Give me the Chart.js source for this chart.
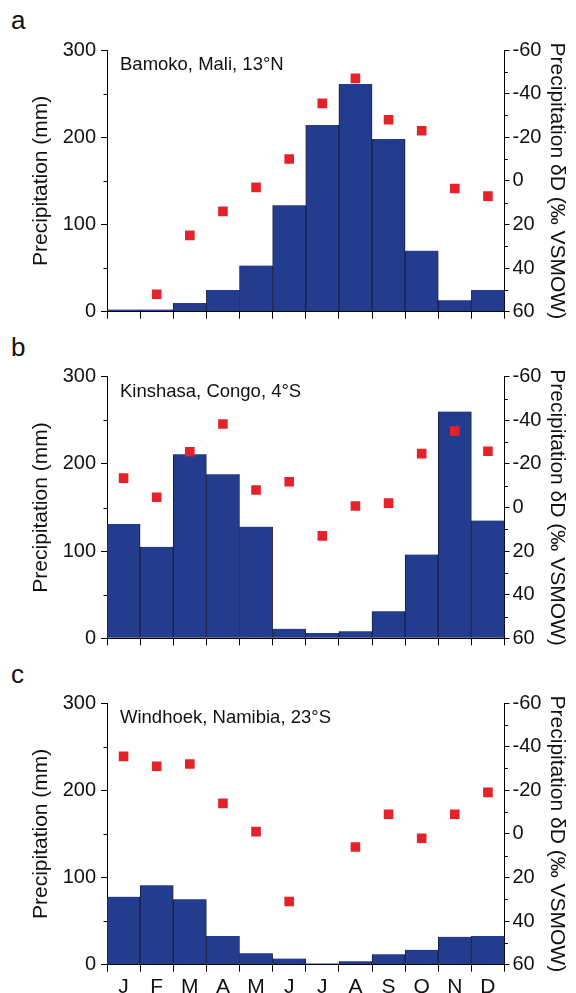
<!DOCTYPE html>
<html>
<head>
<meta charset="utf-8">
<script src="https://cdn.jsdelivr.net/npm/chart.js@4.4.1/dist/chart.umd.min.js"></script>
<style>
  html, body { margin: 0; padding: 0; background: #fff; }
  body { width: 576px; height: 993px; position: relative; overflow: hidden; font-family: "Liberation Sans", Arial, sans-serif; }
  .panel { position: absolute; left: 0; width: 576px; }
  .letter { position: absolute; left: 11px; font-size: 26px; color: #111; line-height: 1; }
</style>
</head>
<body>
<div class="letter" id="la" style="top:7px">a</div>
<div class="letter" id="lb" style="top:334px">b</div>
<div class="letter" id="lc" style="top:661px">c</div>
<div class="panel" style="top:0px;height:330px"><canvas id="ca" width="576" height="330"></canvas></div>
<div class="panel" style="top:330px;height:330px"><canvas id="cb" width="576" height="330"></canvas></div>
<div class="panel" style="top:660px;height:333px"><canvas id="cc" width="576" height="333"></canvas></div>
<script>
// ---- data ----
const months = ['J','F','M','A','M','J','J','A','S','O','N','D'];

const bamakoPrecip = [2.5, 2.5, 10, 25, 53, 122, 214, 261, 198, 70, 13, 25];
const bamakoDD     = [null, 52, 25, 14, 3, -10, -35.5, -47, -28, -23, 3.5, 7];

const kinshasaPrecip = [131, 105, 211, 188, 128, 11, 6, 8, 31, 96, 260, 135];
const kinshasaDD     = [-13.5, -4.7, -25.6, -38.3, -8, -11.8, 13, -0.7, -2, -24.7, -35.1, -25.8];

const windhoekPrecip = [78, 91, 75, 33, 13, 7, 1.5, 4, 12, 17, 32, 33];
const windhoekDD     = [-35.5, -31, -32, -14, -1, 31, null, 6, -9, 2, -9, -19];

const precipTicks = [0, 100, 200, 300];
const deltaTicks  = [-60, -40, -20, 0, 20, 40, 60];
const precipMinor = [50, 150, 250];
const deltaMinor  = [-50, -30, -10, 10, 30, 50];

const stationNames = ['Bamoko, Mali, 13°N', 'Kinshasa, Congo, 4°S', 'Windhoek, Namibia, 23°S'];
const leftTitle  = 'Precipitation (mm)';
const rightTitle = 'Precipitation δD (‰ VSMOW)';

// ---- styling ----
const FONT = '"Liberation Sans", Arial, sans-serif';
const TXT = '#111111';
const BAR = '#233c8e';
const PT  = '#e5222a';

const minorTicks = {
  id: 'minorTicks',
  afterDraw(chart) {
    const ctx = chart.ctx;
    const y = chart.scales.y, y1 = chart.scales.y1;
    ctx.save();
    ctx.strokeStyle = '#000';
    ctx.lineWidth = 1;
    ctx.beginPath();
    precipMinor.forEach(v => {
      const p = Math.round(y.getPixelForValue(v)) + 0.5;
      ctx.moveTo(chart.chartArea.left - 3.5, p);
      ctx.lineTo(chart.chartArea.left, p);
    });
    deltaMinor.forEach(v => {
      const p = Math.round(y1.getPixelForValue(v)) + 0.5;
      ctx.moveTo(chart.chartArea.right, p);
      ctx.lineTo(chart.chartArea.right + 3.5, p);
    });
    ctx.stroke();
    ctx.restore();
  }
};

const stationLabel = {
  id: 'stationLabel',
  afterDraw(chart, args, opts) {
    const ctx = chart.ctx;
    ctx.save();
    ctx.font = '18.5px ' + FONT;
    ctx.fillStyle = TXT;
    ctx.textBaseline = 'alphabetic';
    ctx.textAlign = 'left';
    ctx.fillText(opts.text, chart.chartArea.left + 13, chart.chartArea.top + 20);
    ctx.restore();
  }
};

function makeChart(id, precip, dd, name, padTop, xHeight, showMonths) {
  return new Chart(document.getElementById(id), {
    data: {
      labels: months,
      datasets: [
        {
          type: 'line',
          data: dd,
          yAxisID: 'y1',
          showLine: false,
          pointStyle: 'rect',
          pointRadius: 6.8,
          pointBackgroundColor: PT,
          pointBorderWidth: 0,
          order: 0
        },
        {
          type: 'bar',
          data: precip,
          yAxisID: 'y',
          backgroundColor: BAR,
          borderColor: '#1b1f45',
          borderWidth: {left: 1, right: 1, top: 0, bottom: 0},
          borderSkipped: false,
          categoryPercentage: 1.0,
          barPercentage: 1.0,
          order: 1
        }
      ]
    },
    options: {
      responsive: false,
      animation: false,
      events: [],
      layout: { padding: { top: padTop, left: 0, right: 0, bottom: 0 } },
      plugins: {
        legend: { display: false },
        tooltip: { enabled: false },
        stationLabel: { text: name }
      },
      scales: {
        x: {
          type: 'category',
          offset: true,
          grid: { offset: true, drawOnChartArea: false, drawTicks: true, tickLength: 7, color: '#000' },
          border: { display: true, color: '#000', width: 1 },
          ticks: {
            display: showMonths,
            color: TXT,
            font: { family: FONT, size: 21 },
            padding: 3,
            maxRotation: 0,
            autoSkip: false
          },
          afterFit(s) { s.height = xHeight; }
        },
        y: {
          position: 'left',
          min: 0, max: 300,
          afterBuildTicks(s) { s.ticks = precipTicks.map(v => ({value: v})); },
          grid: { drawOnChartArea: false, drawTicks: true, tickLength: 6, color: '#000' },
          border: { display: true, color: '#000', width: 1 },
          ticks: { color: TXT, font: { family: FONT, size: 20 }, padding: 5 },
          title: { display: true, text: leftTitle, color: TXT, font: { family: FONT, size: 21 }, padding: { top: 29, bottom: 0 } },
          afterFit(s) { s.width = 107; }
        },
        y1: {
          position: 'right',
          reverse: true,
          min: -60, max: 60,
          afterBuildTicks(s) { s.ticks = deltaTicks.map(v => ({value: v})); },
          grid: { drawOnChartArea: false, drawTicks: true, tickLength: 5, color: '#000' },
          border: { display: true, color: '#000', width: 1 },
          ticks: { color: TXT, font: { family: FONT, size: 20 }, padding: 3 },
          title: { display: true, text: rightTitle, color: TXT, font: { family: FONT, size: 21 }, padding: { top: 7, bottom: 0 } },
          afterFit(s) { s.width = 71.5; }
        }
      }
    },
    plugins: [minorTicks, stationLabel]
  });
}

makeChart('ca', bamakoPrecip, bamakoDD, stationNames[0], 50, 18.3, false);
makeChart('cb', kinshasaPrecip, kinshasaDD, stationNames[1], 46.7, 21.7, false);
makeChart('cc', windhoekPrecip, windhoekDD, stationNames[2], 43, 28.3, true);
</script>
</body>
</html>
